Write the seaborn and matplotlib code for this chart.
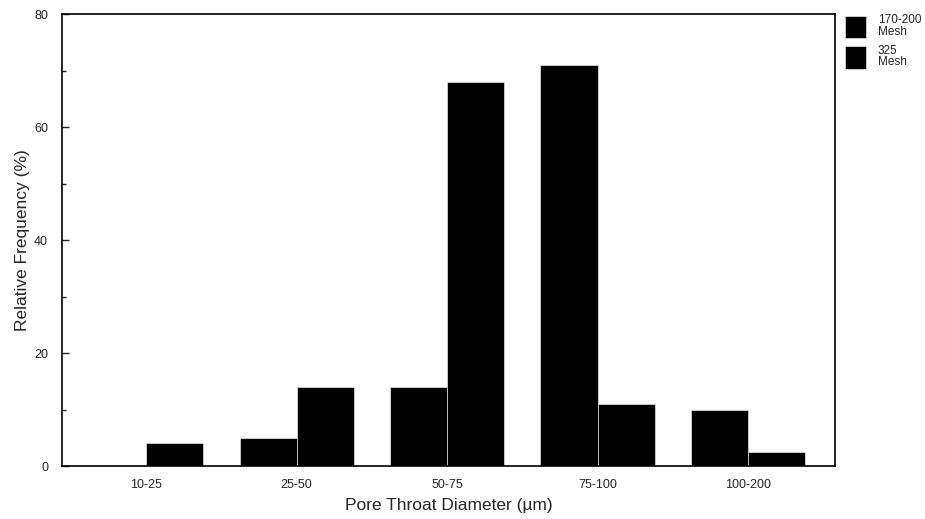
import matplotlib
matplotlib.use("Agg")
import matplotlib.pyplot as plt
import seaborn as sns
import pandas as pd
from matplotlib.ticker import MultipleLocator

categories = ["10-25", "25-50", "50-75", "75-100", "100-200"]
mesh_170_200 = [0, 5, 14, 71, 10]
mesh_325 = [4, 14, 68, 11, 2.5]
series_names = ["170-200\nMesh", "325\nMesh"]

df = pd.DataFrame({
    "cat": categories * 2,
    "val": mesh_170_200 + mesh_325,
    "series": [series_names[0]] * len(categories) + [series_names[1]] * len(categories),
})

sns.set_style("ticks")
plt.rcParams["font.family"] = ["Liberation Sans", "DejaVu Sans"]

fig = plt.figure(figsize=(9.25, 5.19), dpi=100)
ax = fig.add_axes([0.067, 0.102, 0.836, 0.871])
sns.barplot(data=df, x="cat", y="val", hue="series", order=categories,
            hue_order=series_names, palette=["black", "black"], width=0.76,
            edgecolor="white", linewidth=0.4, ax=ax, legend=True)

ax.set_xlim(-0.56, 4.58)
ax.set_ylim(0, 80)
ax.yaxis.set_major_locator(MultipleLocator(20))
ax.yaxis.set_minor_locator(MultipleLocator(10))
ax.tick_params(axis="y", which="major", direction="in", length=5, width=1, labelsize=9, pad=10)
ax.tick_params(axis="y", which="minor", direction="in", length=3, width=1)
ax.tick_params(axis="x", length=0, labelsize=9, pad=9)
for s in ax.spines.values():
    s.set_visible(True)
    s.set_linewidth(1.2)
    s.set_color("black")

ax.set_xlabel("Pore Throat Diameter (µm)", fontsize=12.5, labelpad=5)
ax.set_ylabel("Relative Frequency (%)", fontsize=12.5, labelpad=3)

leg = ax.legend(loc="upper left", bbox_to_anchor=(1.012, 1.0), frameon=False,
                fontsize=8.5, handlelength=1.8, handleheight=2.5, labelspacing=0.6,
                handletextpad=1.0, borderaxespad=0, borderpad=0)
for t in leg.get_texts():
    t.set_linespacing(0.95)

fig.savefig("out.png", dpi=100)
